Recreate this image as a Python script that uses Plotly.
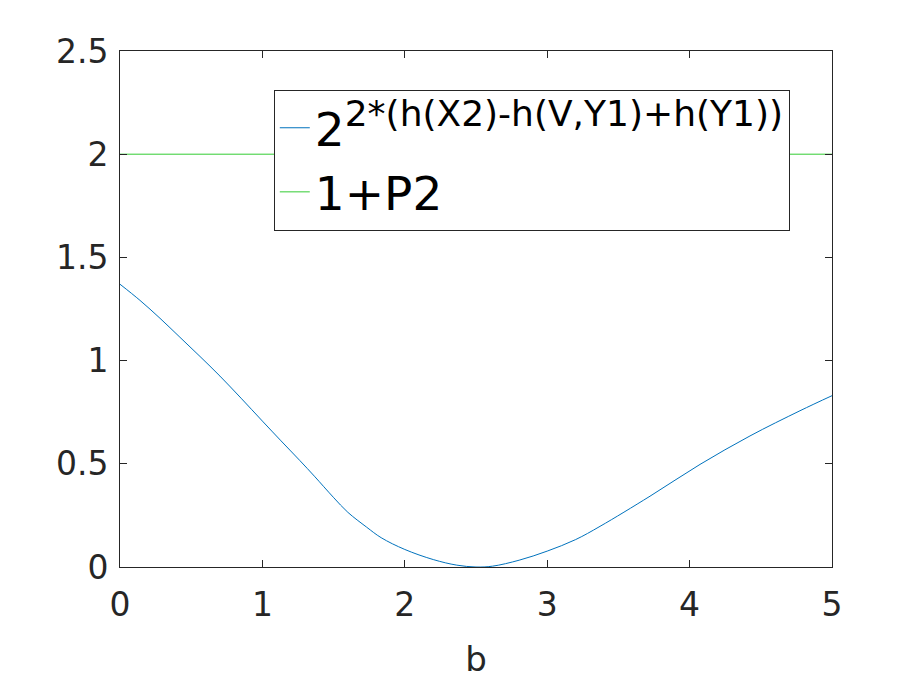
import plotly.graph_objects as go

# values
b_vals = [0.0, 0.14, 0.281, 0.421, 0.562, 0.702, 0.85, 1.0, 1.131, 1.264,
          1.365, 1.498, 1.6, 1.732, 1.834, 2.0, 2.2, 2.365, 2.5, 2.616, 2.803,
          3.0, 3.2, 3.371, 3.722, 4.073, 4.424, 4.775, 5.0]
rate_vals = [1.370, 1.292, 1.205, 1.113, 1.020, 0.925, 0.818, 0.707, 0.611,
             0.515, 0.440, 0.338, 0.265, 0.193, 0.142, 0.085, 0.036, 0.009,
             0.0, 0.004, 0.033, 0.077, 0.133, 0.197, 0.343, 0.497, 0.635,
             0.757, 0.830]
bound_x = [0, 5]
bound_y = [2, 2]

x_ticks = [0, 1, 2, 3, 4, 5]
y_ticks = [0, 0.5, 1, 1.5, 2, 2.5]
y_tick_text = ['0', '0.5', '1', '1.5', '2', '2.5']

fig = go.Figure()
fig.add_trace(go.Scatter(
    x=b_vals, y=rate_vals, mode='lines', line_shape='spline',
    line=dict(color='#0072BD', width=1),
    name='2<sup><span style="font-size:36px">2*(h(X2)-h(V,Y1)+h(Y1))</span></sup>'))
fig.add_trace(go.Scatter(
    x=bound_x, y=bound_y, mode='lines',
    line=dict(color='#33cc33', width=1),
    name='1+P2'))

axis_style = dict(
    showgrid=False, zeroline=False, showline=True, mirror='ticks',
    linecolor='#262626', linewidth=1, ticks='inside', ticklen=7,
    tickcolor='#262626', tickfont=dict(size=33, color='#262626'),
    automargin=False,
)

# page body has an 8px margin, so the figure is a bit smaller than the window
fig.update_layout(
    width=912, height=676,
    margin=dict(l=112, r=88, t=43, b=117),
    paper_bgcolor='white', plot_bgcolor='white',
    font=dict(family='DejaVu Sans, Arial, sans-serif', color='#262626'),
    xaxis=dict(range=[0, 5], tickvals=x_ticks, ticklabelstandoff=8,
               title=dict(text='b', font=dict(size=34), standoff=24),
               **axis_style),
    yaxis=dict(range=[0, 2.5], tickvals=y_ticks, ticktext=y_tick_text,
               ticklabelstandoff=4, **axis_style),
    legend=dict(
        x=0.216, y=0.925, xanchor='left', yanchor='top',
        bgcolor='white', bordercolor='#262626', borderwidth=1,
        font=dict(size=47, color='black'),
        itemwidth=30, tracegroupgap=0,
    ),
    showlegend=True,
)

fig.write_html("out.html")
